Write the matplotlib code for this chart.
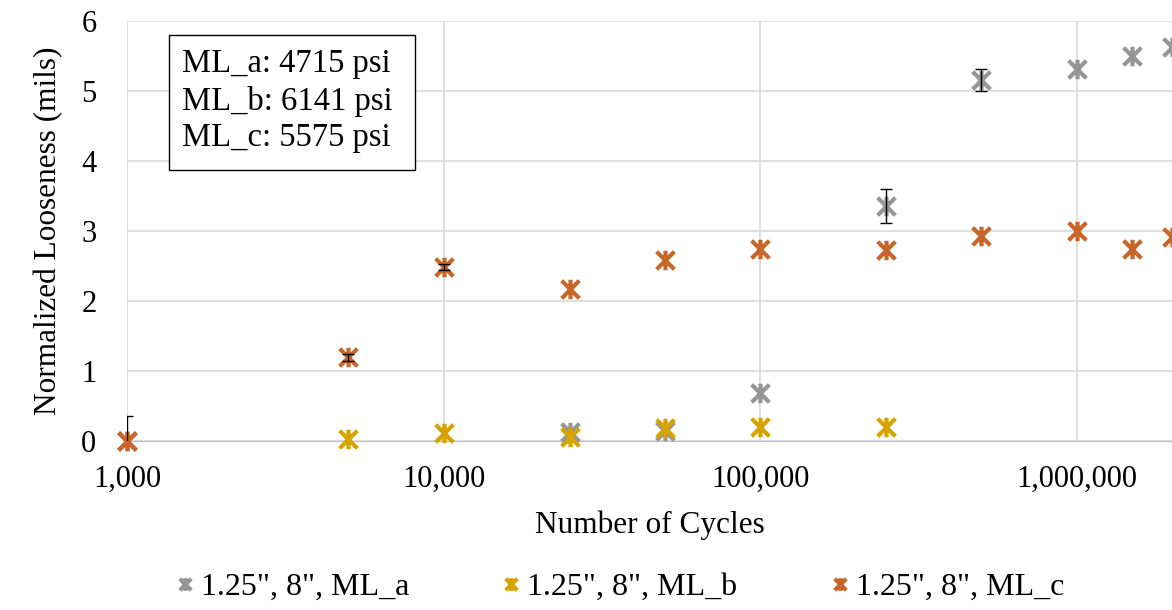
import matplotlib.pyplot as plt
import numpy as np
from matplotlib.path import Path
from matplotlib.patches import Rectangle

# data
cycles_a = [1000, 25000, 50000, 100000, 250000, 500000, 1000000, 1500000, 2000000]
loose_a = [0.0, 0.13, 0.15, 0.69, 3.36, 5.16, 5.31, 5.50, 5.63]
err_a = [0.36, 0.0, 0.0, 0.0, 0.24, 0.16, 0.0, 0.0, 0.0]

cycles_b = [1000, 5000, 10000, 25000, 50000, 100000, 250000]
loose_b = [0.0, 0.03, 0.11, 0.06, 0.18, 0.20, 0.20]

cycles_c = [1000, 5000, 10000, 25000, 50000, 100000, 250000, 500000, 1000000, 1500000, 2000000]
loose_c = [0.0, 1.20, 2.49, 2.17, 2.59, 2.74, 2.73, 2.93, 3.00, 2.74, 2.91]
err_c = [0.0, 0.05, 0.04, 0.0, 0.0, 0.0, 0.0, 0.0, 0.0, 0.0, 0.0]

labels = ['1.25", 8", ML_a', '1.25", 8", ML_b', '1.25", 8", ML_c']
colors = ["#969696", "#D6A300", "#C8662A"]
box_text = "ML_a: 4715 psi\nML_b: 6141 psi\nML_c: 5575 psi"

plt.rcParams["font.family"] = ["Liberation Serif", "DejaVu Serif"]

# excel-like star marker: an X with a vertical stroke
star = Path(
    [(-1, -1), (1, 1), (-1, 1), (1, -1), (0, -1.1), (0, 1.1)],
    [Path.MOVETO, Path.LINETO, Path.MOVETO, Path.LINETO, Path.MOVETO, Path.LINETO],
)

fig = plt.figure(figsize=(11.72, 6.10), dpi=100)
ax = fig.add_axes([127 / 1172, 1 - 441 / 610, 1 - 127 / 1172, (441 - 21) / 610])

series = [
    (cycles_a, loose_a, err_a),
    (cycles_b, loose_b, None),
    (cycles_c, loose_c, err_c),
]
for (x, y, e), c, lab in zip(series, colors, labels):
    ax.plot(x, y, linestyle="none", marker=star, markersize=14,
            markeredgewidth=3, color=c, label=lab, zorder=3, clip_on=False)
    if e is not None:
        # only the points that actually carry an error bar
        sel = [i for i, v in enumerate(e) if v > 0]
        ax.errorbar([x[i] for i in sel], [y[i] for i in sel],
                    yerr=[e[i] for i in sel], fmt="none", ecolor="black",
                    elinewidth=1, capsize=4, capthick=1, zorder=4)

ax.set_xscale("log")
ax.set_xlim(1000, 2000000)
ax.set_ylim(0, 6)
ax.set_yticks(range(0, 7))
ax.set_xticks([1000, 10000, 100000, 1000000])
ax.set_xticklabels(["1,000", "10,000", "100,000", "1,000,000"])
ax.xaxis.set_minor_locator(plt.NullLocator())
ax.grid(True, color="#d9d9d9", linewidth=1.2)
ax.set_axisbelow(True)
for s in ["top", "right", "left"]:
    ax.spines[s].set_visible(False)
ax.spines["bottom"].set_color("#bfbfbf")
ax.tick_params(length=0, labelsize=22)
ax.tick_params(axis="x", pad=17)
ax.tick_params(axis="y", pad=22)

ax.set_xlabel("Number of Cycles", fontsize=22.5, labelpad=12)
ax.set_ylabel("Normalized Looseness (mils)", fontsize=22.5, labelpad=13)

# text box with the strength of each mix
ax.add_patch(Rectangle((0.0402, 0.645), 0.2354, 0.322, transform=ax.transAxes,
                       fc="white", ec="black", lw=1, zorder=5))
ax.text(0.0526, 0.8095, box_text, transform=ax.transAxes, fontsize=23.5,
        va="center", ha="left", linespacing=1.27, zorder=6)

fig.legend(loc="center", bbox_to_anchor=(0.526, 1 - 587 / 610), ncol=3,
           frameon=False, fontsize=23, handletextpad=0.0, columnspacing=2.7,
           markerscale=0.65, handlelength=1.0)

fig.savefig("out.png", dpi=100)
